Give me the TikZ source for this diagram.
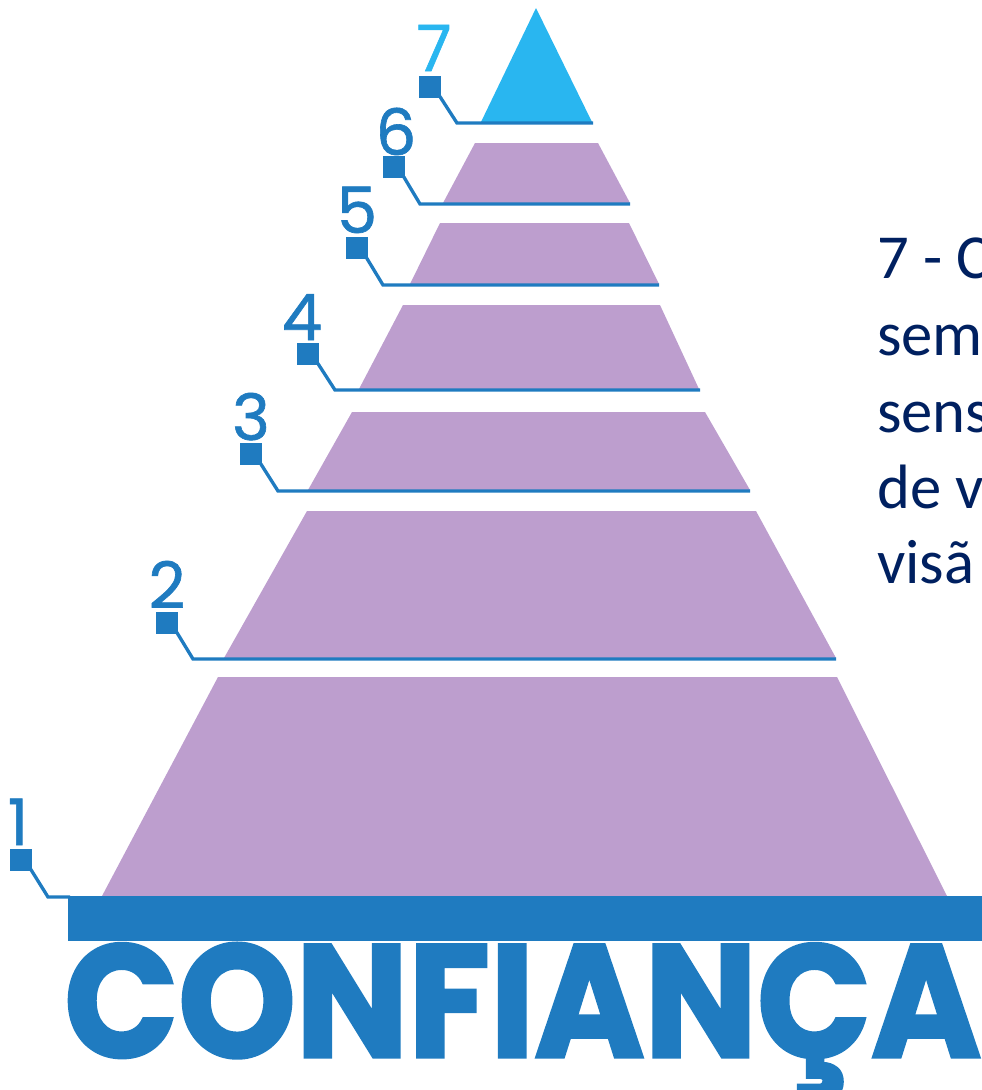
\documentclass[tikz,border=0pt]{standalone}
\usepackage{fontspec}
\newfontfamily\pop[FakeBold=1]{Poppins}
\newfontfamily\popt[BoldFeatures={FakeBold=2}]{Poppins}
\newfontfamily\carl{Carlito}
\definecolor{dblue}{RGB}{31,123,192}
\definecolor{lblue}{RGB}{41,182,240}
\definecolor{lilac}{RGB}{189,158,206}
\definecolor{navy}{RGB}{0,32,96}
\tikzset{
  sq/.style={fill=dblue, minimum size=16.5pt, inner sep=0pt, outer sep=0pt},
  num/.style={font=\pop\fontsize{48}{48}\selectfont, text=dblue, inner sep=0pt, anchor=base},
  conn/.style={draw=dblue, line width=2.5pt},
  lvl/.style={fill=lilac},
  txt/.style={font=\carl\fontsize{47}{57}\selectfont, text=navy, inner sep=0pt, anchor=base west}
}
\begin{document}
\begin{tikzpicture}[x=0.75pt,y=-0.75pt]
\useasboundingbox (0,0) rectangle (982,1090);
\clip (0,0) rectangle (982,1090);
% levels
\fill[lblue] (481,122) -- (536,8) -- (592,122) -- cycle;
\fill[lvl] (443,203) -- (475,143) -- (598,143) -- (630,203) -- cycle;
\fill[lvl] (410,284) -- (440,223) -- (629,223) -- (659,284) -- cycle;
\fill[lvl] (359,389) -- (403,305) -- (660,305) -- (699,389) -- cycle;
\fill[lvl] (308,490) -- (352,412) -- (705,412) -- (750,490) -- cycle;
\fill[lvl] (224,658) -- (307,511) -- (756,511) -- (836,658) -- cycle;
\fill[lvl] (102,896) -- (218,677) -- (837,677) -- (947,896) -- cycle;
% base bar
\fill[dblue] (68,896) rectangle (995,941);
% squares
\node[sq] (s7) at (430,86.5) {};
\node[sq] (s6) at (394,167) {};
\node[sq] (s5) at (356.5,247.5) {};
\node[sq] (s4) at (308,353.5) {};
\node[sq] (s3) at (251,454) {};
\node[sq] (s2) at (167,622.5) {};
\node[sq] (s1) at (21,859.5) {};
% knees and ends
\coordinate (k7) at (457,123); \coordinate (e7) at (593,123);
\coordinate (k6) at (420,204); \coordinate (e6) at (630,204);
\coordinate (k5) at (383,285); \coordinate (e5) at (659,285);
\coordinate (k4) at (335,390); \coordinate (e4) at (700,390);
\coordinate (k3) at (278,491); \coordinate (e3) at (750,491);
\coordinate (k2) at (193,659); \coordinate (e2) at (836,659);
\coordinate (k1) at (48,897);  \coordinate (e1) at (70,897);
\foreach \i in {1,...,7}{
  \draw[conn] ([xshift=-1pt,yshift=1pt]s\i.south east) -- (k\i) -- (e\i);
}
% numbers
\node[num, text=lblue] (n7) at (434,71) {7};
\node[num] (n6) at (396,155) {6};
\node[num] (n5) at (357,233) {5};
\node[num] (n4) at (302,340) {4};
\node[num] (n3) at (251,440) {3};
\node[num] (n2) at (167,608) {2};
\node[num] (n1) at (18,845) {1};
% title
\node[font=\popt\bfseries\fontsize{120}{120}\selectfont, text=dblue, inner sep=0pt, anchor=base west, xscale=0.935] (title) at (64,1057) {CONFIANÇA};
% side text
\node[txt] (t1) at (877,278) {7 - C};
\node[txt] (t2) at (877,355) {sem};
\node[txt] (t3) at (877,432) {sens};
\node[txt] (t4) at (877,508) {de v};
\node[txt] (t5) at (877,583) {visã};
\end{tikzpicture}
\end{document}
